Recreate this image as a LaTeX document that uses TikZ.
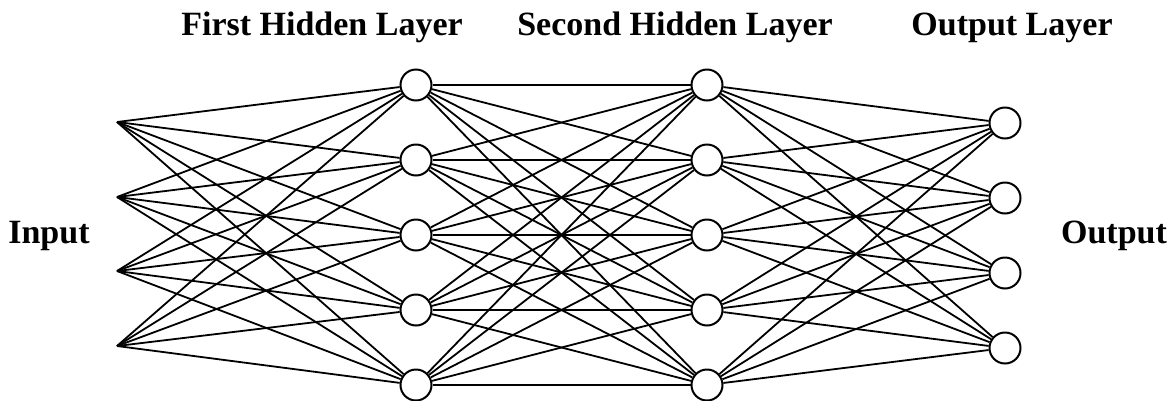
\documentclass[tikz,border=0pt]{standalone}
\usepackage{fontspec}
\setmainfont{Liberation Serif}
\pgfdeclarelayer{bg}
\pgfsetlayers{bg,main}
\begin{document}
\begin{tikzpicture}[x=1pt,y=-1pt,
  neuron/.style={circle,draw,line width=2pt,fill=white,minimum size=31pt,inner sep=0pt},
  conn/.style={line width=1.8pt},
  lbl/.style={font=\fontsize{34}{40}\selectfont\bfseries,anchor=base,inner sep=0pt}]
\useasboundingbox (0,0) rectangle (1171,400);
% inputs
\foreach \i/\y in {1/122,2/197,3/271,4/346} \coordinate (in\i) at (117,\y);
% layers
\foreach \i/\y in {1/85,2/160,3/235,4/310,5/385} \node[neuron] (a\i) at (416,\y) {};
\foreach \i/\y in {1/85,2/160,3/235,4/310,5/385} \node[neuron] (b\i) at (707,\y) {};
\foreach \i/\y in {1/123,2/198,3/273,4/348} \node[neuron] (c\i) at (1005,\y) {};
% connections
\begin{pgfonlayer}{bg}
\foreach \i in {1,...,4} \foreach \j in {1,...,5} \draw[conn] (in\i) -- (a\j);
\foreach \i in {1,...,5} \foreach \j in {1,...,5} \draw[conn] (a\i) -- (b\j);
\foreach \i in {1,...,5} \foreach \j in {1,...,4} \draw[conn] (b\i) -- (c\j);
\end{pgfonlayer}
% labels
\node[lbl] (t1) at (322,35) {First Hidden Layer};
\node[lbl] (t2) at (675,35) {Second Hidden Layer};
\node[lbl] (t3) at (1012,35) {Output Layer};
\node[lbl] (tin) at (49,243) {Input};
\node[lbl] (tout) at (1114,243) {Output};
\end{tikzpicture}
\end{document}
